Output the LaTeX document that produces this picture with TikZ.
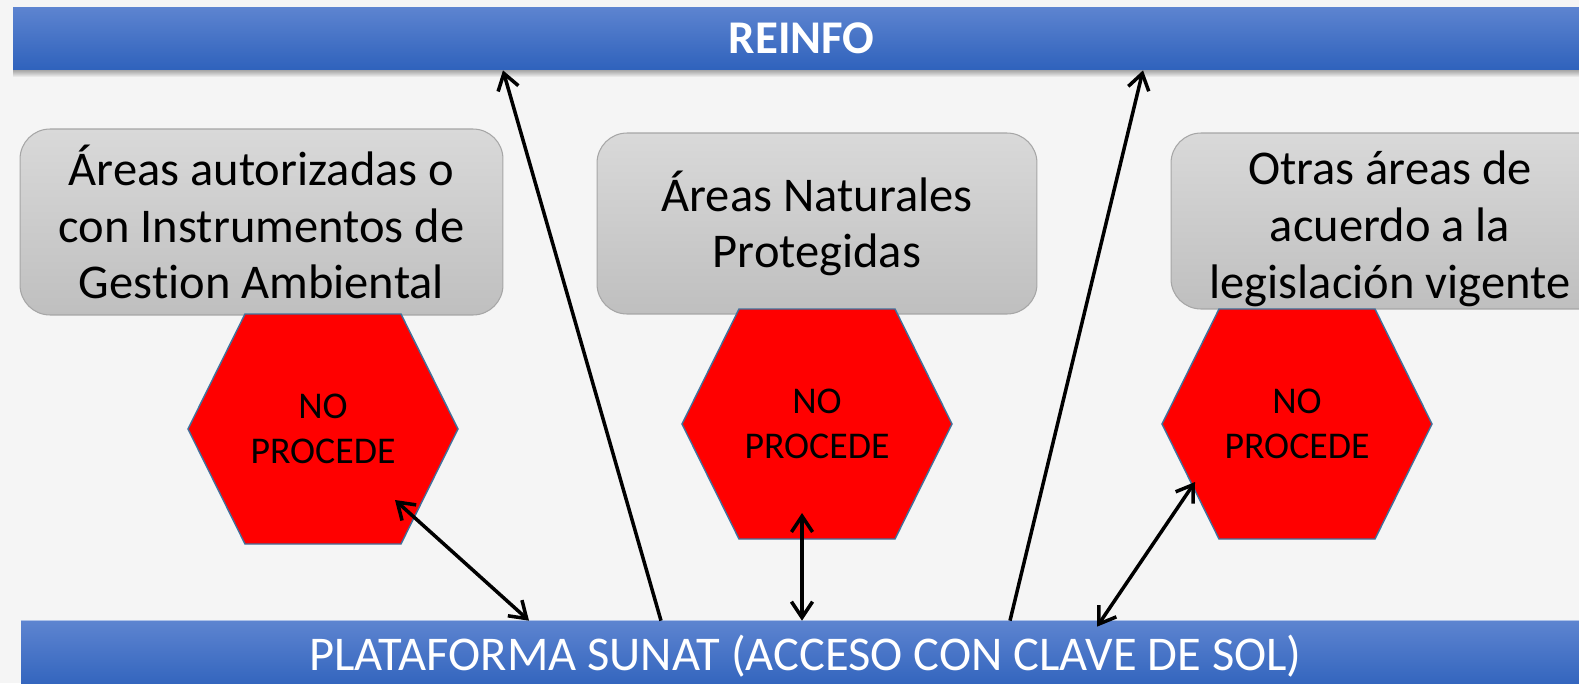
\documentclass[tikz,border=0pt]{standalone}
\usepackage{fontspec}
\setmainfont{Carlito}[Ligatures=NoCommon]
\usetikzlibrary{arrows.meta,calc}

\definecolor{barTop}{HTML}{5D84D0}
\definecolor{barBottom}{HTML}{2F62BC}
\definecolor{boxTop}{HTML}{D9D9D9}
\definecolor{boxBottom}{HTML}{BFBFBF}
\definecolor{boxLine}{HTML}{A6A6A6}
\definecolor{hexLine}{HTML}{41719C}
\definecolor{backGray}{HTML}{F5F5F5}

\tikzset{
  bar/.style={rectangle, top color=barTop, bottom color=barBottom, text=white, inner sep=0pt},
  area/.style={rectangle, rounded corners=0.6cm, top color=boxTop, bottom color=boxBottom, draw=boxLine, line width=0.6pt, align=center, inner sep=0pt, font=\fontsize{27.6}{32.3}\selectfont},
  areatext/.style={align=center, inner sep=0pt, font=\fontsize{27.6}{32.3}\selectfont},
  hexshape/.style={fill=red, draw=hexLine, line width=0.8pt},
  hextext/.style={align=center, inner sep=0pt, font=\fontsize{21.5}{25.5}\selectfont},
  conn/.style={line width=2pt, -{Straight Barb[length=9pt,width=12pt]}},
  biconn/.style={line width=2pt, {Straight Barb[length=9pt,width=12pt]}-{Straight Barb[length=9pt,width=12pt]}},
}

% hexagon "NO PROCEDE": name, x, y
\newcommand{\nohex}[3]{%
  \filldraw[hexshape] (#2-135,#3) -- (#2-78,#3-115) -- (#2+78,#3-115) -- (#2+135,#3)
    -- (#2+78,#3+115) -- (#2-78,#3+115) -- cycle;
  \node[hextext, name=#1] at (#2,#3) {NO\\PROCEDE};
}

\begin{document}
\begin{tikzpicture}[x=0.02cm, y=-0.02cm]
        \clip (0,0) rectangle (1579,683);
        \fill[backGray] (0,0) rectangle (1579,683);
        % shadow under the top bar
        \foreach \i in {1,...,7}
            \fill[black, opacity=0.05] (13,70) rectangle (1590,70+\i);
        \node[bar, name=reinfo, minimum width=31.54cm, minimum height=1.26cm,
              font=\fontsize{26.7}{30}\selectfont\bfseries] at (801.5,38.5) {REINFO};
        \node[bar, name=sunat, minimum width=31.38cm, minimum height=1.4cm,
              font=\fontsize{27.6}{32}\selectfont] at (805.5,656) {PLATAFORMA SUNAT (ACCESO CON CLAVE DE SOL)};
        \draw[barTop!50!white, line width=0.8pt] (sunat.north west) -- (sunat.north east);

        \node[area, name=autorizadas, minimum width=9.66cm, minimum height=3.72cm] at (261.5,222)
            {Áreas autorizadas o\\con Instrumentos de\\Gestion Ambiental};
        \node[area, name=naturales, minimum width=8.8cm, minimum height=3.62cm] at (817,223.5)
            {Áreas Naturales\\Protegidas};
        \node[area, name=otras, minimum width=8.76cm, minimum height=3.52cm] at (1390,221) {};
        \node[areatext, name=otras_text] at ($(otras)+(0,8)$)
            {Otras áreas de\\acuerdo a la\\legislación vigente};

        \nohex{np1}{323}{429}
        \nohex{np2}{817}{424}
        \nohex{np3}{1297}{424}

        \draw[conn] ($(sunat.north)+(-144.5,0)$) -- ($(reinfo.south)+(-298.5,0)$);
        \draw[conn] ($(sunat.north)+(204.5,0)$) -- ($(reinfo.south)+(341.5,0)$);
        \draw[biconn] ($(np1)+(72,71)$) -- ($(sunat.north)+(-276.5,0)$);
        \draw[biconn] ($(np2)+(-15,89)$) -- ($(sunat.north)+(-3.5,0)$);
        \draw[biconn] ($(np3)+(-102,58)$) -- ($(sunat.north)+(291.5,6)$);
    \end{tikzpicture}
\end{document}
